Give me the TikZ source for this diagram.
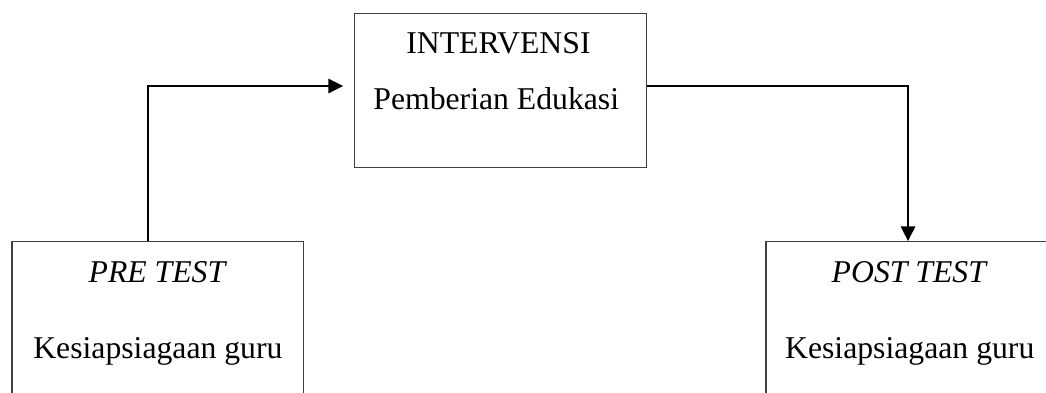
\documentclass[tikz,border=0pt]{standalone}
\usepackage{fontspec}
\setmainfont{Liberation Serif}
\usetikzlibrary{arrows.meta}
\tikzset{
  box/.style={draw=black!75, line width=0.5pt, minimum width=3.88cm, minimum height=2.04cm, inner sep=0pt},
  txt/.style={anchor=base, inner sep=0pt, font=\fontsize{12}{14}\selectfont},
  link/.style={line width=0.8pt, -{Triangle[length=5.6pt,width=5.4pt]}}
}
\begin{document}
\begin{tikzpicture}
  \useasboundingbox (0,0) rectangle (13.912,5.214);
  \clip (0,0) rectangle (13.912,5.214);
  % boxes
  \node[box] (mid) at (6.657,4.010) {};
  \node[box] (pre) at (2.101,0.978) {};
  \node[box] (post) at (12.130,0.978) {};
  % texts
  \node[txt] (midtop) at (6.63,4.509) {INTERVENSI};
  \node[txt] (midbot) at (6.60,3.751) {Pemberian Edukasi};
  \node[txt] (pretop) at (2.10,1.463) {\textit{PRE TEST}};
  \node[txt] (prebot) at (2.10,0.452) {Kesiapsiagaan guru};
  \node[txt] (posttop) at (12.10,1.463) {\textit{POST TEST}};
  \node[txt] (postbot) at (12.10,0.452) {Kesiapsiagaan guru};
  % connectors
  \draw[link] ([xshift=-3.8pt]pre.north) |- ([xshift=-4.1pt,yshift=1.7pt]mid.west);
  \draw[link] ([yshift=1.7pt]mid.east) -| ([xshift=-1.5pt]post.north);
\end{tikzpicture}
\end{document}
